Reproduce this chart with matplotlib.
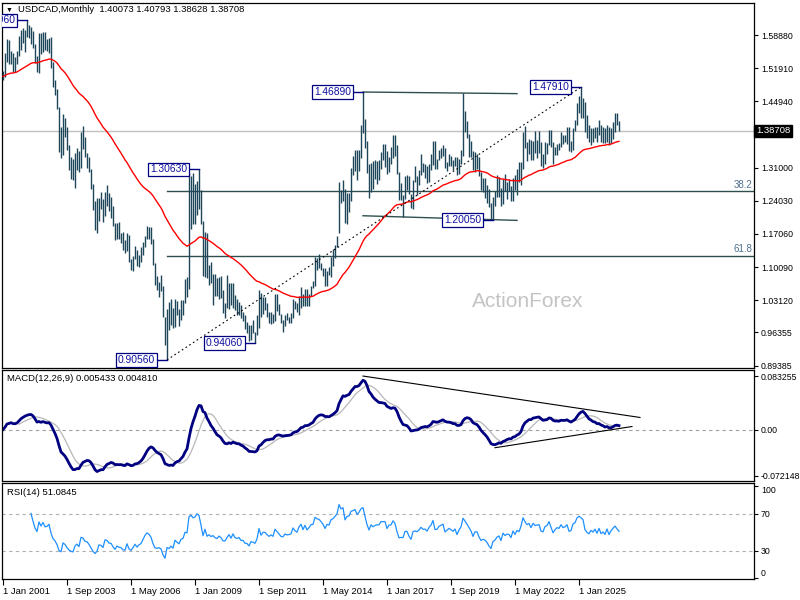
import matplotlib
matplotlib.use("Agg")
import matplotlib.pyplot as plt
import numpy as np
import pandas as pd

plt.rcParams['font.family'] = ['Liberation Sans', 'DejaVu Sans']

# USDCAD monthly bars, Jan 2001 .. Sep 2026
high = [
    1.5130, 1.5500, 1.5800, 1.5790, 1.5560, 1.5510, 1.5430, 1.5550, 1.5860, 1.5990, 1.6030, 1.6000,  # 2001
    1.6196, 1.6100, 1.6050, 1.5980, 1.5700, 1.5450, 1.5935, 1.5920, 1.5950, 1.5950, 1.5800, 1.5830,  # 2002
    1.5850, 1.5320, 1.4950, 1.4760, 1.4370, 1.3950, 1.4220, 1.4150, 1.3950, 1.3580, 1.3330, 1.3280,  # 2003
    1.3400, 1.3520, 1.3450, 1.3850, 1.3970, 1.3740, 1.3410, 1.3330, 1.3070, 1.2750, 1.2390, 1.2460,  # 2004
    1.2470, 1.2590, 1.2440, 1.2590, 1.2730, 1.2560, 1.2480, 1.2300, 1.1940, 1.1930, 1.1960, 1.1730,  # 2005
    1.1740, 1.1580, 1.1730, 1.1680, 1.1170, 1.1250, 1.1460, 1.1360, 1.1260, 1.1440, 1.1540, 1.1670,  # 2006
    1.1880, 1.1850, 1.1850, 1.1590, 1.1100, 1.0830, 1.0700, 1.0850, 1.0600, 0.9960, 1.0130, 1.0280,  # 2007
    1.0340, 1.0150, 1.0330, 1.0290, 1.0120, 1.0320, 1.0310, 1.0760, 1.0790, 1.2990, 1.2920, 1.2980,  # 2008
    1.2750, 1.2820, 1.3063, 1.2630, 1.1970, 1.1740, 1.1720, 1.1050, 1.1110, 1.0860, 1.0860, 1.0770,  # 2009
    1.0800, 1.0830, 1.0520, 1.0250, 1.0850, 1.0680, 1.0680, 1.0670, 1.0420, 1.0340, 1.0280, 1.0210,  # 2010
    1.0070, 1.0010, 0.9860, 0.9790, 0.9800, 0.9900, 0.9650, 0.9990, 1.0530, 1.0470, 1.0380, 1.0380,  # 2011
    1.0260, 1.0060, 1.0060, 1.0030, 1.0440, 1.0450, 1.0230, 1.0030, 0.9900, 1.0000, 1.0050, 0.9960,  # 2012
    1.0040, 1.0330, 1.0290, 1.0260, 1.0400, 1.0590, 1.0450, 1.0540, 1.0540, 1.0450, 1.0620, 1.0710,  # 2013
    1.1220, 1.1200, 1.1280, 1.1090, 1.0990, 1.0990, 1.0920, 1.1020, 1.1210, 1.1390, 1.1470, 1.1670,  # 2014
    1.2800, 1.2620, 1.2830, 1.2650, 1.2560, 1.2560, 1.3100, 1.3350, 1.3460, 1.3460, 1.3460, 1.4000,  # 2015
    1.4689, 1.4130, 1.3650, 1.3170, 1.3190, 1.3230, 1.3250, 1.3240, 1.3250, 1.3420, 1.3600, 1.3600,  # 2016
    1.3450, 1.3330, 1.3530, 1.3790, 1.3790, 1.3570, 1.3010, 1.2770, 1.2530, 1.2920, 1.2940, 1.2920,  # 2017
    1.2540, 1.2830, 1.3130, 1.2920, 1.3050, 1.3390, 1.3200, 1.3180, 1.3130, 1.3170, 1.3380, 1.3660,  # 2018
    1.3660, 1.3280, 1.3470, 1.3520, 1.3570, 1.3520, 1.3220, 1.3380, 1.3350, 1.3260, 1.3330, 1.3320,  # 2019
    1.3290, 1.3470, 1.4667, 1.4290, 1.4080, 1.3800, 1.3650, 1.3450, 1.3420, 1.3390, 1.3320, 1.3000,  # 2020
    1.2880, 1.2880, 1.2740, 1.2650, 1.2350, 1.2490, 1.2600, 1.2950, 1.2900, 1.2680, 1.2850, 1.2970,  # 2021
    1.2800, 1.2860, 1.2720, 1.2880, 1.2940, 1.3080, 1.3220, 1.3210, 1.3840, 1.3980, 1.3630, 1.3700,  # 2022
    1.3690, 1.3660, 1.3860, 1.3670, 1.3880, 1.3630, 1.3390, 1.3640, 1.3620, 1.3900, 1.3900, 1.3630,  # 2023
    1.3540, 1.3600, 1.3620, 1.3850, 1.3780, 1.3790, 1.3950, 1.3950, 1.3650, 1.3930, 1.4110, 1.4467,  # 2024
    1.4600, 1.4791, 1.4557, 1.4486, 1.4207, 1.3997, 1.3927, 1.3927, 1.3962, 1.3962, 1.4102, 1.3997,  # 2025
    1.3962, 1.3927, 1.3997, 1.3962, 1.3927, 1.4068, 1.4245, 1.4245, 1.40793,                         # 2026
]
low = [
    1.4935, 1.5000, 1.5310, 1.5270, 1.5270, 1.5110, 1.5100, 1.5270, 1.5450, 1.5580, 1.5710, 1.5530,
    1.5850, 1.5820, 1.5700, 1.5620, 1.5300, 1.5110, 1.5080, 1.5480, 1.5530, 1.5570, 1.5560, 1.5500,
    1.5200, 1.4800, 1.4620, 1.4330, 1.3430, 1.3310, 1.3370, 1.3750, 1.3480, 1.3050, 1.2860, 1.2840,
    1.2680, 1.3050, 1.3000, 1.3090, 1.3490, 1.3320, 1.3090, 1.3000, 1.2650, 1.2200, 1.1780, 1.1720,
    1.1970, 1.2230, 1.1960, 1.2090, 1.2300, 1.2180, 1.2050, 1.1880, 1.1580, 1.1590, 1.1600, 1.1510,
    1.1370, 1.1310, 1.1340, 1.1110, 1.0940, 1.0930, 1.1180, 1.1030, 1.1000, 1.1120, 1.1270, 1.1420,
    1.1600, 1.1600, 1.1490, 1.1050, 1.0640, 1.0530, 1.0380, 1.0510, 0.9950, 0.9360, 0.9056, 0.9690,
    0.9780, 0.9720, 0.9740, 1.0000, 0.9770, 0.9890, 1.0010, 1.0250, 1.0380, 1.0540, 1.1810, 1.1910,
    1.1920, 1.2100, 1.2220, 1.1920, 1.0820, 1.0790, 1.0780, 1.0630, 1.0670, 1.0210, 1.0400, 1.0410,
    1.0340, 1.0350, 1.0050, 0.9930, 1.0150, 1.0130, 1.0210, 1.0150, 1.0110, 1.0010, 1.0010, 0.9930,
    0.9870, 0.9700, 0.9620, 0.9450, 0.9480, 0.9630, 0.9406, 0.9590, 0.9730, 0.9960, 1.0030, 1.0110,
    0.9960, 0.9840, 0.9820, 0.9840, 0.9880, 1.0080, 1.0000, 0.9840, 0.9640, 0.9760, 0.9890, 0.9830,
    0.9840, 0.9930, 1.0130, 1.0060, 1.0010, 1.0150, 1.0180, 1.0200, 1.0180, 1.0180, 1.0400, 1.0560,
    1.0620, 1.0950, 1.0990, 1.0950, 1.0830, 1.0620, 1.0620, 1.0840, 1.0800, 1.1030, 1.1200, 1.1420,
    1.1730, 1.2360, 1.2400, 1.1940, 1.1920, 1.2160, 1.2400, 1.2950, 1.3020, 1.2830, 1.3030, 1.3310,
    1.3820, 1.3520, 1.2980, 1.2460, 1.2580, 1.2650, 1.2850, 1.2760, 1.2840, 1.3080, 1.3250, 1.3120,
    1.2970, 1.3000, 1.3170, 1.3300, 1.3340, 1.2970, 1.2410, 1.2410, 1.2062, 1.2440, 1.2630, 1.2550,
    1.2250, 1.2230, 1.2800, 1.2530, 1.2730, 1.2950, 1.3000, 1.2890, 1.2780, 1.2790, 1.3050, 1.3160,
    1.3070, 1.3070, 1.3250, 1.3310, 1.3350, 1.3090, 1.3030, 1.3140, 1.3140, 1.3040, 1.3140, 1.2950,
    1.2960, 1.3180, 1.3340, 1.3850, 1.3720, 1.3320, 1.3320, 1.3040, 1.3000, 1.3080, 1.2930, 1.2630,
    1.2590, 1.2470, 1.2360, 1.2270, 1.2010, 1.2005, 1.2300, 1.2490, 1.2490, 1.2290, 1.2340, 1.2600,
    1.2450, 1.2610, 1.2400, 1.2400, 1.2630, 1.2520, 1.2790, 1.2730, 1.3080, 1.3520, 1.3230, 1.3380,
    1.3260, 1.3260, 1.3410, 1.3300, 1.3410, 1.3140, 1.3090, 1.3180, 1.3380, 1.3580, 1.3540, 1.3180,
    1.3360, 1.3360, 1.3470, 1.3540, 1.3590, 1.3630, 1.3590, 1.3440, 1.3420, 1.3470, 1.3880, 1.3990,
    1.4255, 1.4150, 1.4140, 1.3856, 1.3717, 1.3646, 1.3577, 1.3646, 1.3717, 1.3646, 1.3787, 1.3646,
    1.3611, 1.3611, 1.3646, 1.3577, 1.3611, 1.3700, 1.3857, 1.3998, 1.38628,
]
close = [
    1.5020, 1.5470, 1.5760, 1.5370, 1.5460, 1.5180, 1.5300, 1.5490, 1.5800, 1.5900, 1.5880, 1.5930,
    1.5950, 1.5950, 1.5950, 1.5660, 1.5350, 1.5170, 1.5800, 1.5580, 1.5860, 1.5620, 1.5640, 1.5790,
    1.5280, 1.4860, 1.4690, 1.4340, 1.3680, 1.3500, 1.4040, 1.3860, 1.3490, 1.3180, 1.2990, 1.2920,
    1.3260, 1.3370, 1.3100, 1.3710, 1.3640, 1.3340, 1.3290, 1.3030, 1.2640, 1.2210, 1.1890, 1.2020,
    1.2400, 1.2330, 1.2100, 1.2580, 1.2520, 1.2260, 1.2250, 1.1900, 1.1610, 1.1790, 1.1660, 1.1630,
    1.1400, 1.1370, 1.1670, 1.1180, 1.1020, 1.1150, 1.1320, 1.1060, 1.1170, 1.1230, 1.1430, 1.1650,
    1.1790, 1.1710, 1.1530, 1.1070, 1.0690, 1.0650, 1.0680, 1.0560, 0.9950, 0.9460, 1.0000, 0.9880,
    1.0010, 0.9800, 1.0260, 1.0070, 0.9920, 1.0190, 1.0240, 1.0640, 1.0600, 1.2140, 1.2360, 1.2190,
    1.2290, 1.2720, 1.2610, 1.1940, 1.0920, 1.1630, 1.0780, 1.0950, 1.0720, 1.0820, 1.0570, 1.0470,
    1.0690, 1.0520, 1.0150, 1.0150, 1.0410, 1.0640, 1.0300, 1.0650, 1.0280, 1.0200, 1.0270, 0.9990,
    1.0000, 0.9720, 0.9700, 0.9460, 0.9700, 0.9650, 0.9560, 0.9790, 1.0480, 0.9970, 1.0190, 1.0190,
    1.0020, 0.9890, 0.9980, 0.9880, 1.0340, 1.0190, 1.0030, 0.9860, 0.9830, 0.9990, 0.9930, 0.9950,
    0.9980, 1.0290, 1.0160, 1.0080, 1.0370, 1.0520, 1.0270, 1.0530, 1.0300, 1.0430, 1.0620, 1.0630,
    1.1140, 1.1070, 1.1050, 1.0960, 1.0850, 1.0670, 1.0900, 1.0870, 1.1200, 1.1270, 1.1430, 1.1620,
    1.2700, 1.2510, 1.2680, 1.2070, 1.2440, 1.2490, 1.3080, 1.3160, 1.3330, 1.3080, 1.3350, 1.3840,
    1.4020, 1.3530, 1.2990, 1.2550, 1.3080, 1.2920, 1.3060, 1.3120, 1.3120, 1.3420, 1.3420, 1.3430,
    1.3010, 1.3290, 1.3300, 1.3650, 1.3500, 1.2970, 1.2470, 1.2500, 1.2480, 1.2900, 1.2900, 1.2560,
    1.2300, 1.2830, 1.2890, 1.2830, 1.2960, 1.3140, 1.3020, 1.3040, 1.2920, 1.3150, 1.3300, 1.3640,
    1.3140, 1.3160, 1.3360, 1.3440, 1.3510, 1.3090, 1.3200, 1.3310, 1.3240, 1.3160, 1.3280, 1.2990,
    1.3240, 1.3420, 1.4070, 1.3920, 1.3770, 1.3580, 1.3390, 1.3040, 1.3320, 1.3320, 1.2990, 1.2730,
    1.2790, 1.2730, 1.2570, 1.2290, 1.2070, 1.2400, 1.2470, 1.2620, 1.2680, 1.2380, 1.2780, 1.2630,
    1.2710, 1.2680, 1.2500, 1.2850, 1.2650, 1.2880, 1.2810, 1.3140, 1.3830, 1.3620, 1.3450, 1.3550,
    1.3310, 1.3640, 1.3520, 1.3550, 1.3580, 1.3240, 1.3190, 1.3520, 1.3580, 1.3860, 1.3570, 1.3250,
    1.3440, 1.3580, 1.3540, 1.3780, 1.3630, 1.3680, 1.3810, 1.3480, 1.3520, 1.3930, 1.4010, 1.4380,
    1.4530, 1.4460, 1.4390, 1.3900, 1.3740, 1.3660, 1.3850, 1.3760, 1.3920, 1.3700, 1.3980, 1.3690,
    1.3780, 1.3640, 1.3950, 1.3620, 1.3850, 1.4010, 1.4150, 1.40073, 1.38708,
]

date_ticks = [0, 32, 64, 96, 128, 160, 192, 224, 256, 288]
date_labels = ["1 Jan 2001", "1 Sep 2003", "1 May 2006", "1 Jan 2009", "1 Sep 2011",
               "1 May 2014", "1 Jan 2017", "1 Sep 2019", "1 May 2022", "1 Jan 2025"]

price_ticks = [1.58880, 1.51910, 1.44940, 1.31000, 1.24030,
               1.17060, 1.10090, 1.03120, 0.96355, 0.89385]
macd_ticks = [0.083255, 0.0, -0.072148]
macd_labels = ["0.083255", "0.00", "-0.072148"]
rsi_ticks = [100, 70, 30, 0]

# marked swing points: (bar index, price, label)
swings = [(12, 1.6196, "1.61960"), (82, 0.9056, "0.90560"), (98, 1.3063, "1.30630"),
          (126, 0.9406, "0.94060"), (180, 1.4689, "1.46890"), (245, 1.2005, "1.20050"),
          (289, 1.4791, "1.47910")]
last_price = 1.38708
fib_low, fib_high = 0.9056, 1.4791
fib_levels = [0.382, 0.618]

high = np.array(high)
low = np.array(low)
close = pd.Series(close)
idx = np.arange(len(close))

# indicators
ema55 = close.ewm(span=55, adjust=False).mean()
macd = close.ewm(span=12, adjust=False).mean() - close.ewm(span=26, adjust=False).mean()
signal = macd.rolling(9).mean()

diff = close.diff().values
rsi = np.full(len(close), np.nan)
n = 14
up = np.clip(diff[1:n + 1], 0, None).mean()
dn = np.clip(-diff[1:n + 1], 0, None).mean()
rsi[n] = 100 - 100 / (1 + up / dn)
for i in range(n + 1, len(close)):
    up = (up * (n - 1) + max(diff[i], 0)) / n
    dn = (dn * (n - 1) + max(-diff[i], 0)) / n
    rsi[i] = 100 - 100 / (1 + up / dn)


def rect(x0, y0, x1, y1):
    return [x0 / 800, 1 - y1 / 600, (x1 - x0) / 800, (y1 - y0) / 600]


fig = plt.figure(figsize=(8, 6), dpi=100)
ax = fig.add_axes(rect(2, 3, 754, 368))
axm = fig.add_axes(rect(2, 370, 754, 481))
axr = fig.add_axes(rect(2, 483, 754, 579))

bar_col = '#1e465a'
sr_col = '#2f4f4f'
navy = '#000080'

for a in (ax, axm, axr):
    a.set_xlim(-0.5, 375.5)
    for s in a.spines.values():
        s.set_linewidth(0.9)
        s.set_color('black')
    a.yaxis.tick_right()
    a.tick_params(axis='y', length=3, width=0.8, labelsize=6.3, pad=2, colors='black')
    a.set_xticks([])

# ---- price panel
ax.set_ylim(0.8886, 1.6561)
ax.axhline(last_price, color='#c0c0c0', lw=1, zorder=1)
ax.vlines(idx, low, high, color=bar_col, lw=1.0, zorder=3)
ax.plot(idx, ema55, color='red', lw=1, zorder=4)

# resistance / support lines
x_top = np.array([180, 257])
ax.plot(x_top, 1.4689 + (x_top - 180) * (1.4667 - 1.4689) / 50, color=sr_col, lw=1)
x_bot = np.array([180, 257])
ax.plot(x_bot, 1.2062 + (x_bot - 200) * (1.2005 - 1.2062) / 45, color=sr_col, lw=1)

# fibonacci levels
for f in fib_levels:
    lvl = fib_high - f * (fib_high - fib_low)
    ax.plot([82, 375.5], [lvl, lvl], color=sr_col, lw=1)
    ax.annotate(f"{f * 100:.1f}", (374.5, lvl), xytext=(0, 1), textcoords='offset points',
                ha='right', va='bottom', fontsize=7, color='#4f6f8f')

# dotted trend line from the 2007 low to the 2025 high
ax.plot([82, 289], [fib_low, fib_high], color='black', lw=0.8, ls=(0, (1.5, 2.5)), zorder=5)

for i, p, lab in swings:
    ax.plot([i - 5, i], [p, p], color=navy, lw=1, zorder=5)
    ax.text(i - 6, p, lab, ha='right', va='center', fontsize=7.4, color='#1010a0', zorder=6,
            bbox=dict(boxstyle='square,pad=0.18', fc='white', ec=navy, lw=0.9), clip_on=True)

ax.set_yticks(price_ticks)
ax.set_yticklabels([f"{v:.5f}" for v in price_ticks])
ax.text(1.0025, last_price, f"{last_price:.5f}", transform=ax.get_yaxis_transform(),
        ha='left', va='center', fontsize=6.8, color='white', zorder=10, clip_on=False,
        bbox=dict(boxstyle='square,pad=0.2', fc='black', ec='black'))

ax.text(0.6995, 0.181, "ActionForex", transform=ax.transAxes, ha='center', va='center',
        fontsize=15, color='#c4c4c4', zorder=0)
fig.text(18 / 800, 1 - 10 / 600, "USDCAD,Monthly  1.40073 1.40793 1.38628 1.38708",
         ha='left', va='center', fontsize=6.8, color='black')
fig.text(9 / 800, 1 - 10 / 600, "▼", ha='center', va='center', fontsize=5, color='black')

# ---- MACD panel
axm.set_ylim(-0.0801, 0.0927)
axm.axhline(0, color='#a0a0a0', lw=0.8, ls=(0, (3, 3)))
axm.plot(idx, signal, color='#b8b8b8', lw=0.9)
axm.plot(idx, macd, color=navy, lw=2)
axm.plot([180, 318.5], [0.0833, 0.0188], color='black', lw=0.8)
axm.plot([246, 314.5], [-0.0283, 0.0047], color='black', lw=0.8)
axm.set_yticks(macd_ticks)
axm.set_yticklabels(macd_labels)
axm.text(0.0066, 0.92, "MACD(12,26,9) 0.005433 0.004810", transform=axm.transAxes,
         ha='left', va='center', fontsize=6.8, color='black')

# ---- RSI panel
axr.set_ylim(-0.8, 103)
for lvl in (70, 30):
    axr.axhline(lvl, color='#b0b0b0', lw=0.8, ls=(0, (3, 3)))
axr.plot(idx, rsi, color='#1e90ff', lw=0.9)
axr.set_yticks(rsi_ticks)
axr.set_yticklabels([str(v) for v in rsi_ticks])
ylabs = axr.get_yticklabels()
ylabs[0].set_va('top')
ylabs[-1].set_va('bottom')
axr.text(0.0066, 0.9, "RSI(14) 51.0845", transform=axr.transAxes,
         ha='left', va='center', fontsize=6.8, color='black')
axr.set_xticks(date_ticks)
axr.set_xticklabels(date_labels)
axr.tick_params(axis='x', length=4, width=0.8, labelsize=6.8, pad=2)
for t in axr.get_xticklabels():
    t.set_ha('left')

fig.savefig("out.png", dpi=100)
